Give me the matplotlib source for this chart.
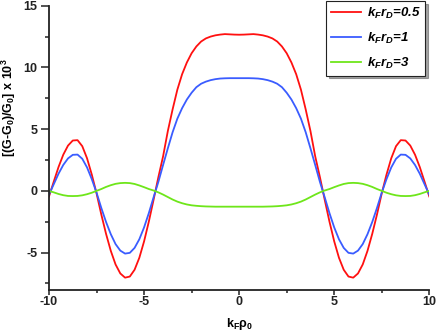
import matplotlib
matplotlib.use('Agg')
import matplotlib.pyplot as plt
from matplotlib.ticker import MultipleLocator

plt.rcParams['font.family'] = ['Liberation Sans', 'DejaVu Sans']
plt.rcParams['font.weight'] = 'bold'
plt.rcParams['axes.unicode_minus'] = False
plt.rcParams['mathtext.fontset'] = 'custom'
plt.rcParams['mathtext.rm'] = 'Liberation Sans:bold'
plt.rcParams['mathtext.it'] = 'Liberation Sans:bold:italic'
plt.rcParams['mathtext.bf'] = 'Liberation Sans:bold'

# x positions, k_F rho_0
kRho = [-10.0, -9.75, -9.5, -9.25, -9.0, -8.75, -8.5, -8.25, -8.0, -7.75,
        -7.5, -7.25, -7.0, -6.75, -6.5, -6.25, -6.0, -5.75, -5.5, -5.25,
        -5.0, -4.75, -4.5, -4.25, -4.0, -3.75, -3.5, -3.25, -3.0, -2.75,
        -2.5, -2.25, -2.0, -1.75, -1.5, -1.25, -1.0, -0.75, -0.5, -0.25,
        0.0, 0.25, 0.5, 0.75, 1.0, 1.25, 1.5, 1.75, 2.0, 2.25,
        2.5, 2.75, 3.0, 3.25, 3.5, 3.75, 4.0, 4.25, 4.5, 4.75,
        5.0, 5.25, 5.5, 5.75, 6.0, 6.25, 6.5, 6.75, 7.0, 7.25,
        7.5, 7.75, 8.0, 8.25, 8.5, 8.75, 9.0, 9.25, 9.5, 9.75, 10.0]

# k_F r_D = 0.5
red = [-0.45, 0.75, 1.93, 2.93, 3.67, 4.08, 4.11, 3.62, 2.64, 1.32,
       -0.2, -1.91, -3.48, -4.86, -5.96, -6.69, -7.03, -6.94, -6.39, -5.42,
       -4.09, -2.49, -0.72, 1.1, 2.8, 4.85, 6.6, 8.2, 9.45, 10.4,
       11.15, 11.7, 12.1, 12.35, 12.5, 12.6, 12.66, 12.7, 12.68, 12.66,
       12.65, 12.66, 12.68, 12.7, 12.66, 12.6, 12.5, 12.35, 12.1, 11.7,
       11.15, 10.4, 9.45, 8.2, 6.6, 4.85, 2.8, 1.1, -0.72, -2.49,
       -4.09, -5.42, -6.39, -6.94, -7.03, -6.69, -5.96, -4.86, -3.48, -1.91,
       -0.2, 1.32, 2.64, 3.62, 4.11, 4.08, 3.67, 2.93, 1.93, 0.75, -0.45]

# k_F r_D = 1
blue = [-0.3, 0.54, 1.39, 2.1, 2.63, 2.92, 2.94, 2.6, 1.9, 0.95,
        -0.14, -1.38, -2.52, -3.51, -4.31, -4.84, -5.08, -5.02, -4.62, -3.92,
        -2.96, -1.8, -0.52, 0.72, 2.1, 3.45, 4.75, 5.85, 6.7, 7.4,
        7.95, 8.4, 8.68, 8.85, 8.97, 9.05, 9.1, 9.12, 9.13, 9.13,
        9.13, 9.13, 9.13, 9.12, 9.1, 9.05, 8.97, 8.85, 8.68, 8.4,
        7.95, 7.4, 6.7, 5.85, 4.75, 3.45, 2.1, 0.72, -0.52, -1.8,
        -2.96, -3.92, -4.62, -5.02, -5.08, -4.84, -4.31, -3.51, -2.52, -1.38,
        -0.14, 0.95, 1.9, 2.6, 2.94, 2.92, 2.63, 2.1, 1.39, 0.54, -0.3]

# k_F r_D = 3
green = [0.0, -0.12, -0.25, -0.35, -0.41, -0.42, -0.41, -0.36, -0.27, -0.15,
         0.0, 0.15, 0.32, 0.46, 0.57, 0.63, 0.65, 0.63, 0.56, 0.44,
         0.3, 0.15, 0.03, -0.12, -0.3, -0.5, -0.7, -0.87, -1.0, -1.1,
         -1.17, -1.21, -1.24, -1.26, -1.27, -1.28, -1.28, -1.28, -1.28, -1.28,
         -1.28, -1.28, -1.28, -1.28, -1.28, -1.28, -1.27, -1.26, -1.24, -1.21,
         -1.17, -1.1, -1.0, -0.87, -0.7, -0.5, -0.3, -0.12, 0.03, 0.15,
         0.3, 0.44, 0.56, 0.63, 0.65, 0.63, 0.57, 0.46, 0.32, 0.15,
         0.0, -0.15, -0.27, -0.36, -0.41, -0.42, -0.41, -0.35, -0.25, -0.12, 0.0]

labels = [r'$k_Fr_D$=0.5', r'$k_Fr_D$=1', r'$k_Fr_D$=3']

fig = plt.figure(figsize=(4.36, 3.36), dpi=100)
ax = fig.add_axes([0.1124, 0.138, 0.8722, 0.845])

ax.plot(kRho, red, color='#ff1010', lw=1.3, label=labels[0])
ax.plot(kRho, blue, color='#3a5cff', lw=1.3, label=labels[1])
ax.plot(kRho, green, color='#6ee61a', lw=1.3, label=labels[2])

ax.set_xlim(-10, 10)
ax.set_ylim(-8, 15)
ax.xaxis.set_major_locator(MultipleLocator(5))
ax.xaxis.set_minor_locator(MultipleLocator(2.5))
ax.yaxis.set_major_locator(MultipleLocator(5))
ax.yaxis.set_minor_locator(MultipleLocator(2.5))

for s in ['top', 'right']:
	ax.spines[s].set_visible(False)
for s in ['left', 'bottom']:
	ax.spines[s].set_linewidth(1.3)
	ax.spines[s].set_color('#222222')

ax.tick_params(which='both', direction='out', width=1.1, labelsize=9, colors='#222222')
ax.tick_params(axis='x', which='major', length=3.4, pad=1)
ax.tick_params(axis='x', which='minor', length=2.4)
ax.tick_params(axis='y', which='major', length=5.5, pad=3)
ax.tick_params(axis='y', which='minor', length=3.2)
for t in ax.get_xticklabels() + ax.get_yticklabels():
	t.set_fontweight('bold')

ax.set_xlabel(r'k$_\mathregular{F}$$\mathregular{\rho_0}$', fontsize=9, fontweight='bold', labelpad=6)
ax.set_ylabel(r'[(G-G$_\mathregular{0}$)/G$_\mathregular{0}$] x 10$^\mathregular{3}$', fontsize=9, fontweight='bold')
ax.yaxis.set_label_coords(-0.081, 0.64)

leg = ax.legend(loc='upper right', bbox_to_anchor=(0.978, 1.0), bbox_transform=fig.transFigure,
                fancybox=False, shadow=True, framealpha=1, handlelength=2.3, handletextpad=0.4,
                borderpad=0.35, borderaxespad=0.1, labelspacing=0.75,
                prop={'size': 9.5, 'style': 'italic', 'weight': 'bold'})
leg.get_frame().set_edgecolor('#222222')
leg.get_frame().set_linewidth(0.8)

fig.savefig('out.png', dpi=100)
